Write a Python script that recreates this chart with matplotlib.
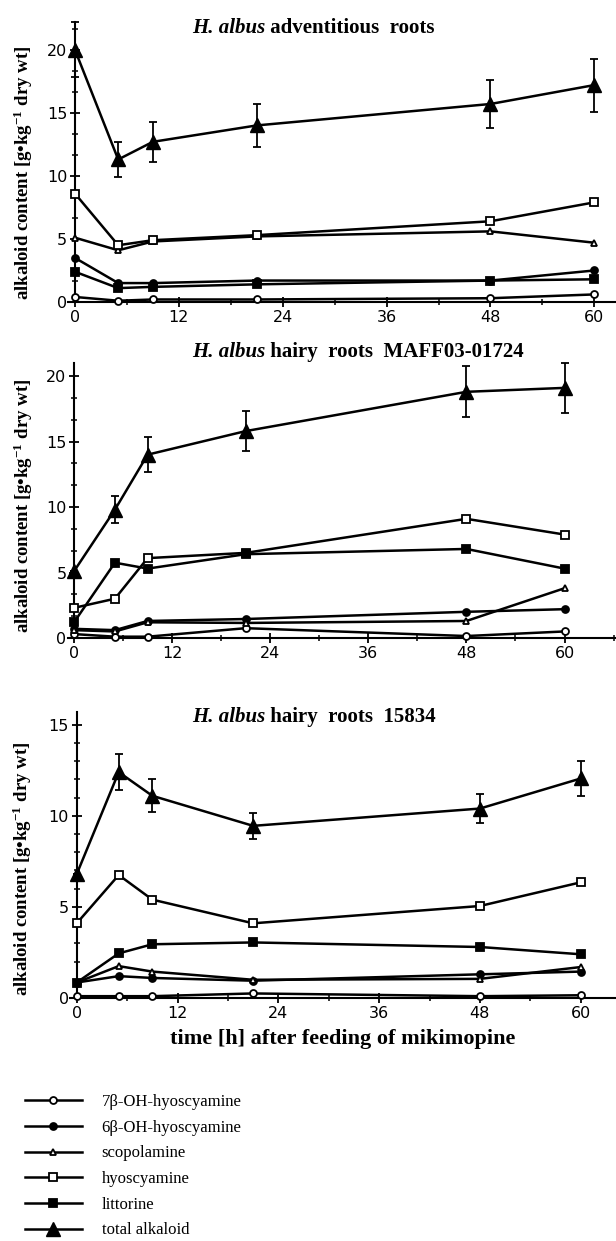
import matplotlib
matplotlib.use('Agg')
from matplotlib import pyplot as plt
from matplotlib.ticker import MultipleLocator

hours = [0, 5, 9, 21, 48, 60]

# H. albus adventitious roots
adv_7b = [0.4, 0.1, 0.2, 0.2, 0.3, 0.6]
adv_6b = [3.5, 1.5, 1.5, 1.7, 1.7, 2.5]
adv_scop = [5.1, 4.1, 4.8, 5.2, 5.6, 4.7]
adv_hyos = [8.6, 4.5, 4.9, 5.3, 6.4, 7.9]
adv_litt = [2.4, 1.1, 1.2, 1.4, 1.7, 1.8]
adv_total = [20.0, 11.3, 12.7, 14.0, 15.7, 17.2]
adv_err = [2.2, 1.4, 1.6, 1.7, 1.9, 2.1]

# H. albus hairy roots MAFF03-01724
maff_7b = [0.3, 0.1, 0.1, 0.75, 0.15, 0.5]
maff_6b = [0.7, 0.6, 1.3, 1.45, 2.0, 2.2]
maff_scop = [0.6, 0.5, 1.2, 1.15, 1.3, 3.8]
maff_hyos = [2.3, 3.0, 6.1, 6.5, 9.1, 7.9]
maff_litt = [1.2, 5.75, 5.3, 6.4, 6.8, 5.3]
maff_total = [5.1, 9.8, 14.0, 15.8, 18.8, 19.1]
maff_err = [0.0, 1.05, 1.35, 1.5, 1.95, 1.9]

# H. albus hairy roots 15834
h15_7b = [0.1, 0.1, 0.1, 0.25, 0.1, 0.15]
h15_6b = [0.85, 1.2, 1.1, 0.95, 1.3, 1.45]
h15_scop = [0.85, 1.75, 1.45, 1.0, 1.05, 1.7]
h15_hyos = [4.1, 6.75, 5.4, 4.1, 5.05, 6.35]
h15_litt = [0.85, 2.45, 2.95, 3.05, 2.8, 2.4]
h15_total = [6.8, 12.4, 11.1, 9.45, 10.4, 12.05]
h15_err = [0.0, 1.0, 0.9, 0.7, 0.8, 0.95]

labels = ['7β-OH-hyoscyamine', '6β-OH-hyoscyamine', 'scopolamine',
          'hyoscyamine', 'littorine', 'total alkaloid']
x_ticks = [0, 12, 24, 36, 48, 60]

SERIF = 'Liberation Serif'
plt.rcParams['mathtext.fontset'] = 'custom'
plt.rcParams['mathtext.rm'] = 'Liberation Serif:bold'
plt.rcParams['mathtext.it'] = 'Liberation Serif:italic:bold'
plt.rcParams['mathtext.bf'] = 'Liberation Serif:bold'

styles = [
    dict(marker='o', markersize=5, markerfacecolor='white'),
    dict(marker='o', markersize=5, markerfacecolor='black'),
    dict(marker='^', markersize=5, markerfacecolor='white'),
    dict(marker='s', markersize=5.5, markerfacecolor='white'),
    dict(marker='s', markersize=5.5, markerfacecolor='black'),
]


def draw_panel(fig, rect, xmax, ymax, minor, series, total, err):
    ax = fig.add_axes(rect)
    lines = []
    for values, st in zip(series, styles):
        ln, = ax.plot(hours, values, color='black', lw=1.8,
                      markeredgecolor='black', markeredgewidth=1.3,
                      clip_on=False, zorder=3, **st)
        lines.append(ln)
    cont = ax.errorbar(hours, total, yerr=err, color='black', lw=1.8,
                       marker='^', markersize=10, elinewidth=1.3,
                       capsize=3, capthick=1.3, clip_on=False, zorder=4)
    for art in cont.lines[1] + cont.lines[2]:
        art.set_clip_on(False)
    lines.append(cont.lines[0])

    ax.set_xlim(-0.8, xmax)
    ax.set_ylim(0, ymax)
    ax.spines['left'].set_position(('data', 0))
    ax.spines['top'].set_visible(False)
    ax.spines['right'].set_visible(False)
    for s in ('left', 'bottom'):
        ax.spines[s].set_linewidth(1.5)
    ax.set_xticks(x_ticks)
    ax.xaxis.set_minor_locator(MultipleLocator(6))
    ax.yaxis.set_major_locator(MultipleLocator(5))
    ax.yaxis.set_minor_locator(MultipleLocator(minor))
    ax.tick_params(which='major', direction='inout', length=7, width=1.3,
                   labelsize=11.5, pad=2)
    ax.tick_params(which='minor', direction='inout', length=4, width=1.1)
    ax.set_ylabel('alkaloid content [g•kg$^{-1}$ dry wt]', family=SERIF,
                  weight='bold', size=13.5)
    return ax, lines


def panel_title(fig, ax, y_px, rest):
    t = fig.text(192 / 616, 1 - y_px / 1241, 'H. albus', family=SERIF,
                 style='italic', weight='bold', size=15, va='baseline')
    ax.annotate(rest, xy=(1, 0), xycoords=t, va='bottom', ha='left',
                family=SERIF, weight='bold', size=15, annotation_clip=False)


fig = plt.figure(figsize=(6.16, 12.41), dpi=100)

ax1, _ = draw_panel(fig, [68 / 616, 1 - 302 / 1241, 548 / 616, 280 / 1241],
                    62.5, 22.2, 5 / 3,
                    [adv_7b, adv_6b, adv_scop, adv_hyos, adv_litt],
                    adv_total, adv_err)
ax1.yaxis.set_label_coords(-0.06, 0.46)
panel_title(fig, ax1, 33, ' adventitious  roots')

ax2, _ = draw_panel(fig, [67.5 / 616, 1 - 638 / 1241, 548.5 / 616, 275 / 1241],
                    66.3, 21, 5 / 3,
                    [maff_7b, maff_6b, maff_scop, maff_hyos, maff_litt],
                    maff_total, maff_err)
ax2.yaxis.set_label_coords(-0.06, 0.48)
panel_title(fig, ax2, 357, ' hairy  roots  MAFF03-01724')

ax3, lines = draw_panel(fig, [70 / 616, 1 - 998 / 1241, 546 / 616, 286 / 1241],
                        64.2, 15.7, 1,
                        [h15_7b, h15_6b, h15_scop, h15_hyos, h15_litt],
                        h15_total, h15_err)
ax3.yaxis.set_label_coords(-0.066, 0.45)
panel_title(fig, ax3, 722, ' hairy  roots  15834')
ax3.set_xlabel('time [h] after feeding of mikimopine', family=SERIF,
               weight='bold', size=16, labelpad=6)

fig.legend(lines, labels, loc='upper left',
           bbox_to_anchor=(25 / 616, 1 - 1094 / 1241), frameon=False,
           prop={'family': SERIF, 'size': 12}, handlelength=3.4,
           handletextpad=1.2, labelspacing=0.58, borderpad=0,
           borderaxespad=0)

fig.savefig('out.png', dpi=100)
